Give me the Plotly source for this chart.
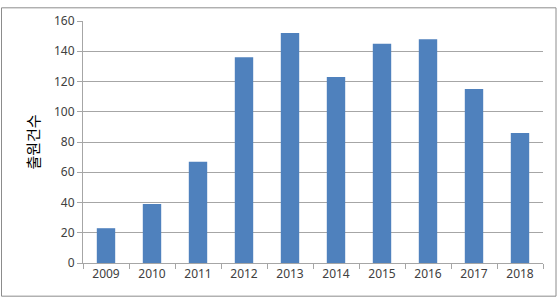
import plotly.graph_objects as go

years = ["2009", "2010", "2011", "2012", "2013", "2014", "2015", "2016", "2017", "2018"]
counts = [23, 39, 67, 136, 152, 123, 145, 148, 115, 86]
y_ticks = [0, 20, 40, 60, 80, 100, 120, 140, 160]

W, H = 559, 302
L, R, T, B = 83, 16, 15, 39
pw, ph = W - L - R, H - T - B

def px(x):
    return (x - L) / pw

def py(y):
    return (H - B - y) / ph

fig = go.Figure(go.Bar(x=years, y=counts, marker=dict(color="#4F81BD", line=dict(width=0)), width=0.4))

fig.update_layout(
    width=W, height=H,
    margin=dict(l=L, r=R, t=T, b=B),
    paper_bgcolor="white", plot_bgcolor="white",
    showlegend=False,
    font=dict(family="Noto Sans, Noto Sans CJK KR", size=12, color="#404040"),
    xaxis=dict(
        type="category", showline=True, linecolor="#A6A6A6", linewidth=1,
        ticks="outside", ticklen=5, tickcolor="#A6A6A6", tickson="boundaries",
        showgrid=False, tickfont=dict(size=12, color="#404040"),
    ),
    yaxis=dict(
        range=[0, 160], tickvals=y_ticks, showline=True, linecolor="#A6A6A6", linewidth=1,
        ticks="outside", ticklen=5, tickcolor="#A6A6A6",
        showgrid=True, gridcolor="#A6A6A6", gridwidth=1, zeroline=False,
        tickfont=dict(size=12, color="#404040"),
        title=dict(text="출원건수", font=dict(family="Noto Sans CJK KR", size=15, color="#000000"), standoff=10),
    ),
    shapes=[dict(type="rect", xref="paper", yref="paper",
                 x0=px(1.5), x1=px(556), y0=py(1.5), y1=py(297),
                 line=dict(color="#8C8C8C", width=1), layer="below")],
)

fig.write_html("out.html")
